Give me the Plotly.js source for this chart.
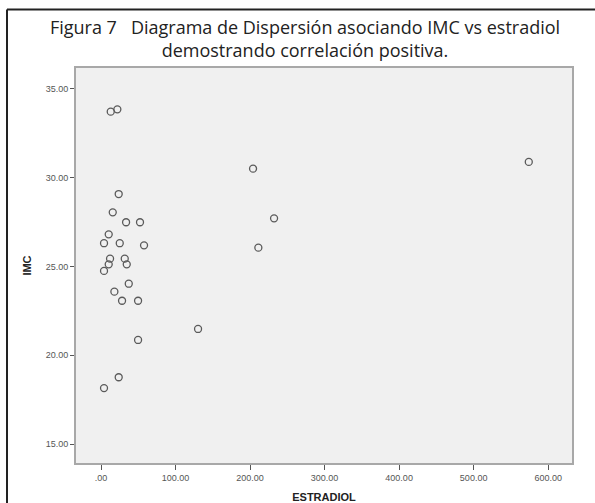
<!DOCTYPE html>
<html>
<head>
<meta charset="utf-8">
<script src="https://cdn.plot.ly/plotly-3.0.1.min.js"></script>
<style>
  html, body { margin: 0; padding: 0; background: #ffffff; }
  #chart { width: 595px; height: 503px; }
</style>
</head>
<body>
<div id="chart"></div>
<script>
// Data (ESTRADIOL vs IMC)
const estradiol = [13, 21.9, 23.7, 15.7, 33.6, 52.3, 10.3, 4, 25.1, 57.7, 12.1, 31.8, 10.3, 34.5, 4, 37.2, 17.9, 28.2, 49.7, 49.7, 23.7, 4, 204, 574, 232.2, 211.1, 130.2];
const imc       = [33.72, 33.85, 29.08, 28.05, 27.49, 27.49, 26.81, 26.31, 26.31, 26.19, 25.44, 25.44, 25.12, 25.12, 24.75, 24.03, 23.58, 23.07, 23.07, 20.86, 18.76, 18.15, 30.51, 30.89, 27.71, 26.06, 21.48];

const xTickVals = [0, 100, 200, 300, 400, 500, 600];
const xTickText = ['.00', '100.00', '200.00', '300.00', '400.00', '500.00', '600.00'];
const yTickVals = [15, 20, 25, 30, 35];
const yTickText = ['15.00', '20.00', '25.00', '30.00', '35.00'];

const titleLines = ['Figura 7\u00a0\u00a0\u00a0Diagrama de Dispersión asociando IMC vs estradiol', 'demostrando correlación positiva.'];

const trace = {
  x: estradiol,
  y: imc,
  type: 'scatter',
  mode: 'markers',
  marker: { symbol: 'circle-open', size: 7, color: '#5a5a5a', line: { width: 1.3, color: '#5a5a5a' } },
  hoverinfo: 'x+y'
};

// pixel -> paper helpers for the outer frame
const L = 76, R = 572, T = 68, B = 463;
const px = p => (p - L) / (R - L);
const py = p => (B - p) / (B - T);

const layout = {
  width: 595, height: 503,
  margin: { l: L, r: 595 - R, t: T, b: 503 - B },
  paper_bgcolor: '#ffffff',
  plot_bgcolor: '#f0f0f0',
  showlegend: false,
  title: {
    text: titleLines.join('<br>'),
    font: { family: 'Open Sans, sans-serif', size: 18, color: '#222' },
    xref: 'paper', x: px(305), xanchor: 'center',
    yref: 'container', y: 1 - 34/503, yanchor: 'top'
  },
  xaxis: {
    range: [-33.6, 632],
    tickvals: xTickVals, ticktext: xTickText,
    ticks: 'outside', ticklen: 5, tickwidth: 1, tickcolor: '#555',
    tickfont: { family: 'Liberation Sans, Arial, sans-serif', size: 9, color: '#555' },
    showgrid: false, zeroline: false,
    showline: true, linecolor: '#a8a8a8', linewidth: 2, mirror: true,
    title: { text: '<b>ESTRADIOL</b>', font: { family: 'Liberation Sans, Arial, sans-serif', size: 11, color: '#222' }, standoff: 15 }
  },
  yaxis: {
    range: [13.93, 36.18],
    tickvals: yTickVals, ticktext: yTickText,
    ticks: 'outside', ticklen: 4, tickwidth: 1, tickcolor: '#555',
    tickfont: { family: 'Liberation Sans, Arial, sans-serif', size: 9, color: '#555' },
    showgrid: false, zeroline: false,
    showline: true, linecolor: '#a8a8a8', linewidth: 2, mirror: true,
    title: { text: '<b>IMC</b>', font: { family: 'Liberation Sans, Arial, sans-serif', size: 11, color: '#222' }, standoff: 12 }
  },
  shapes: [
    { type: 'line', xref: 'paper', yref: 'paper', x0: px(7), x1: px(600), y0: py(9.5), y1: py(9.5), line: { color: '#222', width: 2 } },
    { type: 'line', xref: 'paper', yref: 'paper', x0: px(7), x1: px(7), y0: py(9.5), y1: py(510), line: { color: '#222', width: 2 } }
  ]
};

Plotly.newPlot('chart', [trace], layout, { displayModeBar: false, staticPlot: true });
</script>
</body>
</html>
